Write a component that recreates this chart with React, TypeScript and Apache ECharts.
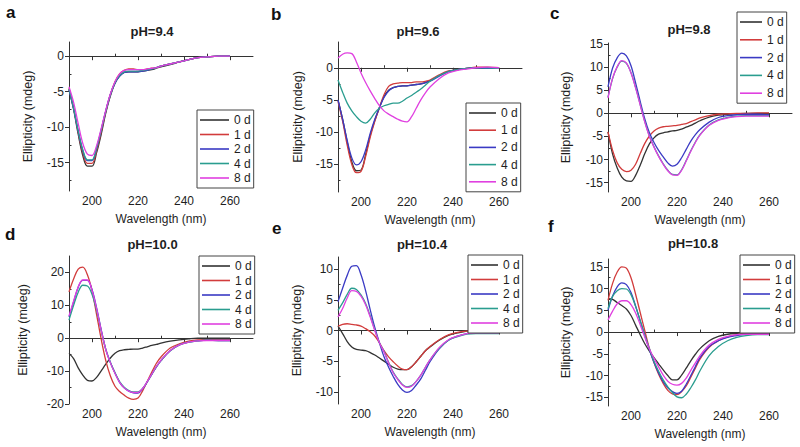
import React, { useEffect, useRef } from "react";
import * as echarts from "echarts";

// ---------------- data ----------------
const WL = [190, 192, 194, 196, 198, 200, 202, 204, 206, 208, 210, 212, 214, 216, 218, 220, 222, 224, 226, 228, 230, 234, 238, 242, 246, 250, 255, 260];
const DAYS = ["0 d", "1 d", "2 d", "4 d", "8 d"];
const TITLES = ["pH=9.4", "pH=9.6", "pH=9.8", "pH=10.0", "pH=10.4", "pH=10.8"];
const LETTERS = ["a", "b", "c", "d", "e", "f"];
const X_TICKS = [200, 220, 240, 260];

// pH 9.4
const A0 = [-4.7, -7.5, -11.0, -14.0, -15.5, -15.5, -13.6, -11.0, -8.0, -5.6, -3.8, -2.8, -2.3, -2.2, -2.2, -2.2, -2.1, -2.0, -1.9, -1.7, -1.5, -1.2, -0.8, -0.5, -0.2, -0.1, 0, 0];
const A1 = [-4.5, -7.3, -10.7, -13.6, -15.1, -15.1, -13.3, -10.7, -7.8, -5.4, -3.6, -2.5, -2.0, -1.8, -1.8, -1.9, -1.9, -1.8, -1.7, -1.6, -1.4, -1.1, -0.8, -0.5, -0.2, -0.1, 0, 0];
const A2 = [-4.7, -7.4, -10.6, -13.3, -14.7, -14.7, -13.0, -10.4, -7.7, -5.4, -3.8, -2.8, -2.3, -2.2, -2.2, -2.2, -2.1, -2.0, -1.8, -1.6, -1.4, -1.1, -0.8, -0.5, -0.2, -0.1, 0, 0];
const A4 = [-4.6, -7.3, -10.5, -13.2, -14.6, -14.6, -12.9, -10.4, -7.7, -5.4, -3.7, -2.7, -2.2, -2.1, -2.1, -2.1, -2.0, -1.9, -1.8, -1.6, -1.4, -1.1, -0.8, -0.5, -0.2, -0.1, 0, 0];
const A8 = [-4.3, -6.5, -9.5, -12.3, -13.8, -14.0, -12.6, -10.2, -7.6, -5.3, -3.6, -2.5, -2.0, -1.9, -1.9, -1.9, -1.9, -1.8, -1.7, -1.6, -1.4, -1.1, -0.8, -0.5, -0.2, -0.1, 0, 0];

// pH 9.6
const B0 = [-5.0, -8.0, -11.5, -14.6, -16.0, -15.9, -13.5, -10.5, -8.2, -6.2, -4.5, -3.5, -3.1, -2.9, -2.8, -2.8, -2.7, -2.6, -2.5, -2.3, -2.0, -1.2, -0.6, -0.3, -0.1, 0, 0, 0];
const B1 = [-5.2, -8.3, -12.0, -15.0, -16.3, -16.1, -13.8, -10.8, -8.3, -6.2, -4.2, -2.9, -2.5, -2.4, -2.3, -2.3, -2.3, -2.2, -2.2, -2.1, -1.9, -1.1, -0.5, -0.3, -0.1, 0.1, 0.1, 0];
const B2 = [-5.0, -8.0, -11.3, -14.0, -15.1, -14.6, -12.8, -10.2, -8.0, -6.2, -4.6, -3.6, -3.1, -2.9, -2.8, -2.8, -2.7, -2.6, -2.5, -2.3, -2.1, -1.3, -0.6, -0.3, -0.1, 0, -0.1, -0.1];
const B4 = [-1.9, -3.8, -5.5, -6.7, -7.6, -8.3, -8.6, -8.0, -7.0, -6.3, -5.9, -5.7, -5.5, -5.5, -5.2, -4.7, -4.3, -3.8, -3.3, -2.7, -2.1, -1.2, -0.6, -0.3, -0.1, 0, 0, -0.1];
const B8 = [1.5, 2.1, 2.3, 2.2, 0.9, -0.8, -2.3, -3.6, -4.8, -5.9, -6.7, -7.2, -7.6, -8.0, -8.3, -8.4, -7.6, -6.3, -5.0, -3.9, -3.0, -1.7, -0.8, -0.4, -0.2, 0, 0.1, 0];

// pH 9.8
const C0 = [-4.0, -8.8, -11.8, -13.8, -14.6, -14.7, -13.4, -11.2, -8.7, -6.6, -5.3, -4.5, -4.2, -4.0, -3.8, -3.7, -3.4, -3.0, -2.6, -2.1, -1.6, -0.8, -0.4, -0.2, -0.1, 0, 0, 0];
const C1 = [-4.0, -8.0, -10.7, -12.1, -12.6, -12.3, -11.0, -8.7, -6.5, -4.9, -3.8, -3.2, -2.9, -2.8, -2.7, -2.6, -2.4, -2.2, -1.8, -1.4, -1.0, -0.5, -0.2, -0.1, 0, 0, 0.1, 0.1];
const C2 = [5.7, 9.8, 12.0, 13.0, 12.4, 10.3, 6.6, 2.6, -1.2, -4.2, -6.3, -8.0, -9.4, -10.7, -11.4, -11.0, -9.6, -7.8, -6.0, -4.6, -3.5, -1.9, -0.9, -0.5, -0.3, -0.2, -0.2, -0.3];
const C4 = [3.5, 7.5, 10.0, 11.3, 10.8, 8.8, 5.6, 1.9, -1.8, -4.9, -7.2, -9.2, -10.9, -12.3, -13.2, -13.3, -12.2, -10.2, -8.1, -6.2, -4.6, -2.5, -1.4, -0.9, -0.6, -0.5, -0.5, -0.5];
const C8 = [3.3, 7.6, 10.1, 11.4, 10.9, 8.7, 5.5, 1.8, -1.9, -5.0, -7.3, -9.3, -11.0, -12.4, -13.3, -13.4, -12.3, -10.3, -8.2, -6.3, -4.7, -2.6, -1.5, -1.0, -0.7, -0.6, -0.6, -0.6];

// pH 10.0
const D0 = [-4.6, -6.2, -9.0, -11.2, -12.8, -13.0, -11.9, -9.9, -7.9, -6.0, -4.6, -3.8, -3.5, -3.4, -3.3, -3.3, -3.0, -2.6, -2.2, -1.9, -1.5, -0.9, -0.5, -0.2, 0, 0, 0, 0];
const D1 = [14.1, 18.0, 21.0, 21.6, 19.3, 14.5, 7.2, -0.3, -6.8, -11.5, -14.6, -16.2, -17.3, -18.2, -18.6, -18.2, -16.0, -13.2, -10.3, -7.6, -5.7, -3.0, -1.7, -0.9, -0.5, -0.4, -0.4, -0.4];
const D2 = [6.5, 11.0, 15.5, 17.6, 17.6, 14.8, 9.2, 2.6, -3.4, -7.4, -10.6, -13.4, -15.1, -16.1, -16.6, -16.7, -15.4, -13.3, -11.0, -8.7, -6.8, -3.8, -2.0, -1.2, -0.8, -0.6, -0.7, -0.7];
const D4 = [5.5, 10.0, 14.0, 16.1, 15.9, 13.4, 8.5, 2.3, -3.4, -7.4, -10.5, -13.2, -14.9, -15.9, -16.3, -16.3, -15.3, -13.3, -11.0, -8.7, -6.8, -3.8, -2.0, -1.2, -0.8, -0.6, -0.7, -0.7];
const D8 = [6.8, 11.3, 15.6, 17.7, 17.7, 14.6, 9.0, 2.4, -3.5, -7.5, -10.7, -13.4, -15.1, -16.1, -16.5, -16.5, -15.3, -13.2, -10.9, -8.6, -6.7, -3.7, -2.0, -1.2, -0.8, -0.7, -0.7, -0.7];

// pH 10.4
const E0 = [0.7, -0.5, -1.8, -2.7, -3.1, -3.2, -3.3, -3.6, -4.0, -4.5, -5.0, -5.5, -6.0, -6.3, -6.4, -6.4, -5.9, -5.1, -4.2, -3.3, -2.7, -1.6, -0.8, -0.4, -0.1, 0, 0.1, 0.1];
const E1 = [0.7, 1.0, 1.1, 1.0, 0.9, 0.7, 0.3, -0.2, -0.9, -2.0, -3.3, -4.3, -5.1, -5.8, -6.3, -6.4, -5.9, -5.1, -4.2, -3.3, -2.6, -1.5, -0.7, -0.3, -0.1, 0, 0.1, 0.1];
const E2 = [4.7, 6.9, 9.0, 10.5, 10.6, 9.1, 6.5, 3.4, 0.5, -2.0, -4.3, -6.0, -7.5, -8.8, -9.7, -10.1, -9.8, -8.9, -7.9, -6.5, -5.1, -3.0, -1.6, -0.9, -0.5, -0.3, -0.3, -0.3];
const E4 = [3.3, 4.5, 5.9, 6.9, 6.7, 5.8, 4.4, 2.4, 0.1, -2.0, -3.4, -5.2, -6.8, -7.9, -8.8, -9.2, -9.0, -8.3, -7.3, -6.0, -4.8, -2.9, -1.6, -1.0, -0.6, -0.5, -0.5, -0.5];
const E8 = [2.2, 3.6, 5.3, 6.5, 6.4, 5.6, 4.2, 2.2, 0, -2.0, -3.5, -5.3, -6.9, -8.0, -8.9, -9.3, -9.1, -8.3, -7.3, -6.0, -4.8, -2.8, -1.5, -0.9, -0.5, -0.4, -0.4, -0.4];

// pH 10.8
const F0 = [7.7, 7.5, 6.8, 6.1, 5.3, 3.8, 1.6, -0.6, -2.7, -4.4, -5.9, -7.3, -8.7, -10.0, -11.0, -11.0, -9.9, -8.3, -6.6, -5.1, -3.8, -2.0, -1.0, -0.5, -0.3, -0.2, -0.2, -0.2];
const F1 = [7.3, 11.2, 13.8, 15.0, 14.7, 12.5, 8.7, 4.5, 0.3, -3.8, -7.0, -9.7, -11.8, -13.4, -14.2, -14.4, -13.7, -12.4, -10.4, -8.3, -6.2, -3.5, -2.0, -1.1, -0.6, -0.4, -0.4, -0.4];
const F2 = [5.0, 8.3, 10.4, 11.3, 10.9, 9.1, 6.0, 2.6, -0.7, -4.1, -7.0, -9.4, -11.4, -12.8, -13.7, -14.1, -13.6, -12.0, -10.0, -7.9, -5.9, -3.3, -2.0, -1.2, -0.8, -0.5, -0.5, -0.5];
const F4 = [5.4, 8.2, 9.5, 10.0, 9.9, 8.6, 5.9, 2.6, -0.8, -3.8, -6.7, -9.0, -11.0, -12.6, -13.9, -14.9, -15.1, -14.3, -12.8, -11.0, -8.9, -5.4, -3.3, -2.0, -1.2, -0.8, -0.6, -0.6];
const F8 = [2.8, 4.8, 6.5, 7.2, 7.2, 6.3, 4.4, 1.7, -1.2, -3.9, -6.0, -8.0, -9.9, -11.3, -12.0, -12.2, -11.8, -10.6, -8.8, -7.1, -5.4, -3.0, -1.7, -1.0, -0.6, -0.5, -0.5, -0.5];

const Y_TICKS_A = [-15, -10, -5, 0];
const Y_TICKS_B = [-15, -10, -5, 0];
const Y_TICKS_C = [-15, -10, -5, 0, 5, 10, 15];
const Y_TICKS_D = [-20, -10, 0, 10, 20];
const Y_TICKS_E = [-10, -5, 0, 5, 10];
const Y_TICKS_F = [-15, -10, -5, 0, 5, 10, 15];

// ---------------- layout / style ----------------
const COLORS = ["#333333", "#d23c3c", "#3a3ac4", "#2a9d8f", "#e040e0"];
const FONT = "Liberation Sans, Arial, Helvetica, sans-serif";
const TXT = "#1e1e1e";
const AX = "#333333";

const PANELS = [
  { series: [A0, A1, A2, A4, A8], yTicks: Y_TICKS_A, yMin: -19, yMax: 2, grid: { left: 69, top: 42, width: 184, height: 149 }, legend: { left: 197, top: 110, gap: 2.5, iw: 29 }, nameGap: 35, title: [152, 31], letter: [6, 12] },
  { series: [B0, B1, B2, B4, B8], yTicks: Y_TICKS_B, yMin: -19.3, yMax: 4, grid: { left: 338, top: 42, width: 184, height: 150 }, legend: { left: 466, top: 103, gap: 5.2, iw: 27 }, nameGap: 34, title: [418, 31], letter: [271, 14] },
  { series: [C0, C1, C2, C4, C8], yTicks: Y_TICKS_C, yMin: -17, yMax: 15.2, grid: { left: 608, top: 43, width: 184, height: 149 }, legend: { left: 737, top: 12, gap: 5.8, iw: 22 }, nameGap: 36, title: [689, 29], letter: [550, 13] },
  { series: [D0, D1, D2, D4, D8], yTicks: Y_TICKS_D, yMin: -20, yMax: 25, grid: { left: 69, top: 256, width: 184, height: 148 }, legend: { left: 199, top: 256, gap: 2.5, iw: 28 }, nameGap: 40, title: [152.5, 244.5], letter: [5, 234] },
  { series: [E0, E1, E2, E4, E8], yTicks: Y_TICKS_E, yMin: -12, yMax: 12, grid: { left: 338, top: 257, width: 184, height: 147 }, legend: { left: 468, top: 255, gap: 2.5, iw: 27 }, nameGap: 34.5, title: [422, 244], letter: [272, 228] },
  { series: [F0, F1, F2, F4, F8], yTicks: Y_TICKS_F, yMin: -17, yMax: 16.8, grid: { left: 608, top: 259, width: 184, height: 147 }, legend: { left: 740, top: 255, gap: 2.5, iw: 27 }, nameGap: 36, title: [693, 243], letter: [548, 226] },
];

const midpoints = (t: number[], lo: number, hi: number) => {
  const step = t[1] - t[0];
  const out: number[] = [];
  for (let v = t[0] - step / 2; v <= t[t.length - 1] + step / 2 + 1e-9; v += step) {
    if (v > lo && v < hi) out.push(v);
  }
  return out;
};

function buildOption() {
  const grid: any[] = [];
  const xAxis: any[] = [];
  const yAxis: any[] = [];
  const series: any[] = [];
  const legend: any[] = [];
  const graphic: any[] = [];

  PANELS.forEach((p, i) => {
    grid.push({ ...p.grid, containLabel: false });
    const xMinor = [210, 230, 250];
    xAxis.push({
      type: "value", gridIndex: i, min: 190, max: 270,
      axisLine: { show: true, lineStyle: { color: AX, width: 1 } },
      axisTick: { show: true, customValues: X_TICKS, length: 4, inside: false, lineStyle: { color: AX } },
      axisLabel: { show: true, customValues: X_TICKS, margin: 4, fontSize: 12, color: TXT, fontFamily: FONT },
      splitLine: { show: false },
      name: "Wavelength (nm)", nameLocation: "middle", nameGap: 22,
      nameTextStyle: { fontSize: 12, color: TXT, fontFamily: FONT },
    });
    xAxis.push({
      type: "value", gridIndex: i, min: 190, max: 270, position: "bottom",
      axisLine: { show: false },
      axisTick: { show: true, customValues: xMinor, length: 2.5, inside: true, lineStyle: { color: AX } },
      axisLabel: { show: false }, splitLine: { show: false },
    });
    yAxis.push({
      type: "value", gridIndex: i, min: p.yMin, max: p.yMax,
      axisLine: { show: true, lineStyle: { color: AX, width: 1 } },
      axisTick: { show: true, customValues: p.yTicks, length: 4, inside: false, lineStyle: { color: AX } },
      axisLabel: { show: true, customValues: p.yTicks, margin: 5, fontSize: 12, color: TXT, fontFamily: FONT },
      splitLine: { show: false },
      name: "Ellipticity (mdeg)", nameLocation: "middle", nameGap: p.nameGap,
      nameTextStyle: { fontSize: 12.5, color: TXT, fontFamily: FONT },
    });
    yAxis.push({
      type: "value", gridIndex: i, min: p.yMin, max: p.yMax, position: "left",
      axisLine: { show: false },
      axisTick: { show: true, customValues: midpoints(p.yTicks, p.yMin, p.yMax), length: 2.5, inside: true, lineStyle: { color: AX } },
      axisLabel: { show: false }, splitLine: { show: false },
    });

    p.series.forEach((vals, k) => {
      series.push({
        type: "line", name: DAYS[k], xAxisIndex: i * 2, yAxisIndex: i * 2,
        data: WL.map((w, j) => [w, vals[j]]),
        showSymbol: false, symbol: "none", smooth: 0.35,
        lineStyle: { color: COLORS[k], width: 1.3 },
        itemStyle: { color: COLORS[k] },
        z: 2 + k,
      });
    });

    legend.push({
      orient: "vertical", left: p.legend.left, top: p.legend.top,
      data: DAYS.map((d) => ({ name: d, icon: "rect" })),
      itemWidth: p.legend.iw, itemHeight: 1.6, itemGap: p.legend.gap,
      padding: [4, 3, 4, 3], borderColor: "#444", borderWidth: 1, backgroundColor: "#fff",
      textStyle: { fontSize: 12, color: TXT, fontFamily: FONT },
      selectedMode: false, z: 10,
    });

    graphic.push({
      type: "text", x: p.title[0], y: p.title[1],
      style: { text: TITLES[i], fill: TXT, font: `bold 13px ${FONT}`, textAlign: "center", textVerticalAlign: "middle" },
    });
    graphic.push({
      type: "text", x: p.letter[0], y: p.letter[1],
      style: { text: LETTERS[i], fill: "#111", font: `bold 17px ${FONT}`, textAlign: "left", textVerticalAlign: "middle" },
    });
  });

  return {
    animation: false,
    backgroundColor: "#ffffff",
    textStyle: { fontFamily: FONT },
    grid, xAxis, yAxis, series, legend, graphic,
  };
}

export default function App() {
  const ref = useRef<HTMLDivElement>(null);
  useEffect(() => {
    if (!ref.current) return;
    const chart = echarts.init(ref.current, null, { renderer: "svg", width: 800, height: 447 });
    chart.setOption(buildOption());
    return () => chart.dispose();
  }, []);
  return (
    <div
      ref={ref}
      style={{ position: "fixed", left: 0, top: 0, width: 800, height: 447, background: "#fff" }}
    />
  );
}
